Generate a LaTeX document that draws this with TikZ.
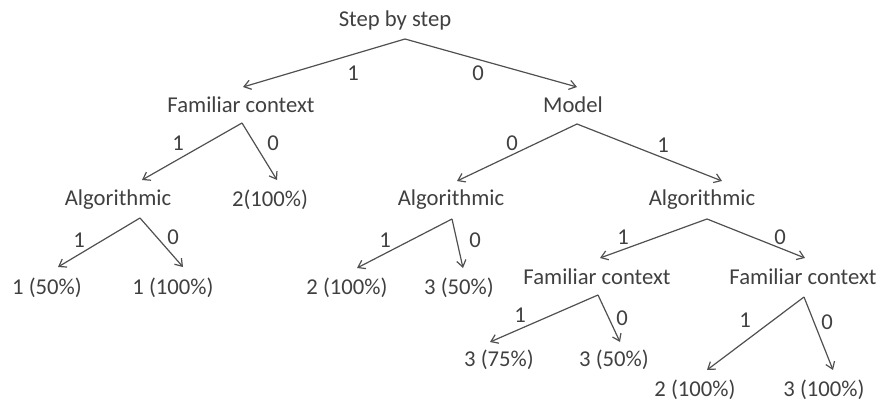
\documentclass[tikz,border=0pt]{standalone}
\usepackage{fontspec}
\setmainfont{Carlito}
\usetikzlibrary{calc,arrows.meta}
\definecolor{ink}{HTML}{404040}
\definecolor{wire}{HTML}{505050}
\begin{document}
\begin{tikzpicture}[x=0.75pt,y=-0.75pt,
  lbl/.style={inner sep=0pt,text=ink,font=\fontsize{17}{20}\selectfont},
  bit/.style={inner sep=0pt,text=ink,font=\fontsize{17}{20}\selectfont},
  arr/.style={draw=wire,line width=0.9pt,-{Straight Barb[length=5pt,width=7pt,line width=0.9pt]}}]
\useasboundingbox (0,0) rectangle (882,403);
% nodes
\node[lbl] (root)  at (395,20)  {Step by step};
\node[lbl] (fc1)   at (241,105) {Familiar context};
\node[lbl] (model) at (573,105) {Model};
\node[lbl] (alg1)  at (118,200) {Algorithmic};
\node[lbl] (l2a)   at (270,200) {2(100\%)};
\node[lbl] (alg2)  at (451,200) {Algorithmic};
\node[lbl] (alg3)  at (702,200) {Algorithmic};
\node[lbl] (l1a)   at (47,288)  {1 (50\%)};
\node[lbl] (l1b)   at (173,288) {1 (100\%)};
\node[lbl] (l2b)   at (347,288) {2 (100\%)};
\node[lbl] (l3a)   at (459,288) {3 (50\%)};
\node[lbl] (fc2)   at (597,277) {Familiar context};
\node[lbl] (fc3)   at (803,277) {Familiar context};
\node[lbl] (l3b)   at (499,360) {3 (75\%)};
\node[lbl] (l3c)   at (614,360) {3 (50\%)};
\node[lbl] (l2c)   at (695,390) {2 (100\%)};
\node[lbl] (l3d)   at (824,390) {3 (100\%)};
% connectors
\draw[arr] ($(root)+(10,19)$) -- ($(fc1)+(2,-18)$);
\draw[arr] ($(root)+(10,19)$) -- ($(model)+(4,-18)$);
\draw[arr] ($(fc1)+(1,18)$) -- ($(alg1)+(24,-20)$);
\draw[arr] ($(fc1)+(1,18)$) -- ($(l2a)+(7,-20)$);
\draw[arr] ($(model)+(4,19)$) -- ($(alg2)+(6,-19)$);
\draw[arr] ($(model)+(4,19)$) -- ($(alg3)+(20,-19)$);
\draw[arr] ($(alg1)+(22,18)$) -- ($(l1a)+(11,-21)$);
\draw[arr] ($(alg1)+(22,18)$) -- ($(l1b)+(10,-21)$);
\draw[arr] ($(alg2)+(1,19)$) -- ($(l2b)+(10,-20)$);
\draw[arr] ($(alg2)+(1,19)$) -- ($(l3a)+(4,-20)$);
\draw[arr] ($(alg3)+(5,19)$) -- ($(fc2)+(3,-19)$);
\draw[arr] ($(alg3)+(5,19)$) -- ($(fc3)+(2,-19)$);
\draw[arr] ($(fc2)+(1,18)$) -- ($(l3b)+(-9,-18)$);
\draw[arr] ($(fc2)+(1,18)$) -- ($(l3c)+(6,-18)$);
\draw[arr] ($(fc3)+(1,20)$) -- ($(l2c)+(12,-20)$);
\draw[arr] ($(fc3)+(1,20)$) -- ($(l3d)+(9,-20)$);
% branch labels
\node[bit] (b1)  at (353,73)  {1};
\node[bit] (b2)  at (478,73)  {0};
\node[bit] (b3)  at (178,143) {1};
\node[bit] (b4)  at (273,143) {0};
\node[bit] (b5)  at (512,143) {0};
\node[bit] (b6)  at (663,145) {1};
\node[bit] (b7)  at (79,240)  {1};
\node[bit] (b8)  at (173,237) {0};
\node[bit] (b9)  at (385,240) {1};
\node[bit] (b10) at (475,240) {0};
\node[bit] (b11) at (623,237) {1};
\node[bit] (b12) at (780,237) {0};
\node[bit] (b13) at (520,315) {1};
\node[bit] (b14) at (622,318) {0};
\node[bit] (b15) at (745,320) {1};
\node[bit] (b16) at (827,322) {0};
\end{tikzpicture}
\end{document}
